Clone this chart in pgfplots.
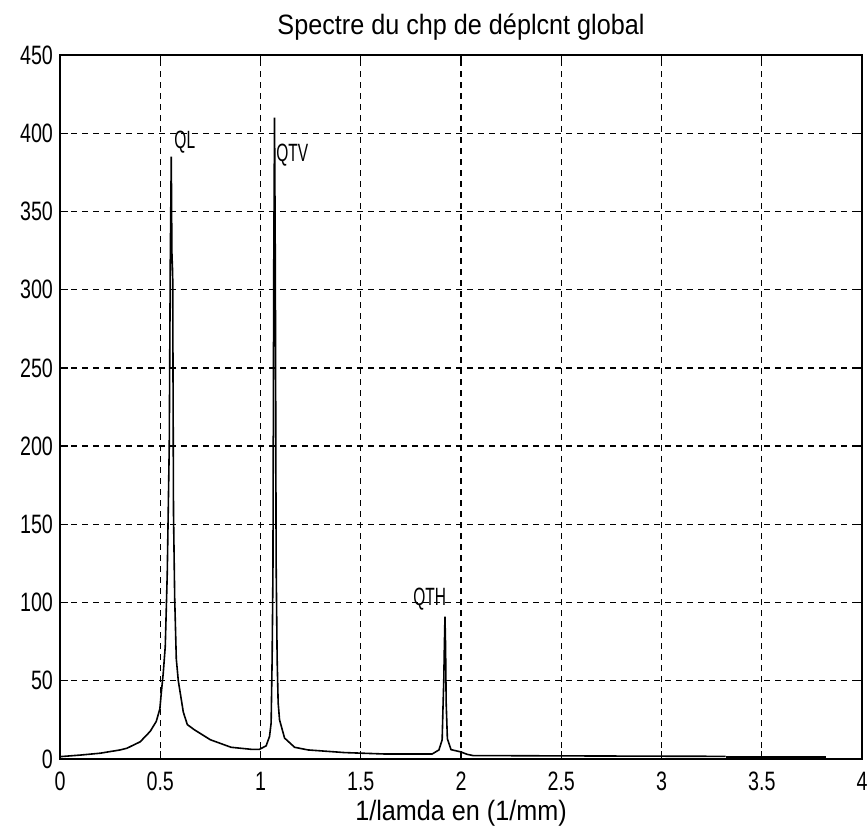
\documentclass[border=0pt]{standalone}
\usepackage{pgfplots}
\pgfplotsset{compat=1.18}
\usepackage{fontspec}
\setmainfont{Liberation Sans}[FakeStretch=0.9]
\newfontfamily\tickfont{Liberation Sans}[FakeStretch=0.74]
\newfontfamily\labfont{Liberation Sans}[FakeStretch=0.62]
\begin{document}
\begin{tikzpicture}
\begin{axis}[
  name=ax,
  scale only axis,
  width=401pt, height=352pt,
  xmin=0, xmax=4, ymin=0, ymax=450,
  xtick={0,0.5,1,1.5,2,2.5,3,3.5,4},
  ytick={0,50,100,150,200,250,300,350,400,450},
  xticklabels={0,0.5,1,1.5,2,2.5,3,3.5,4},
  grid=major,
  grid style={black, dash pattern=on 3pt off 2.5pt, line width=0.7pt},
  axis line style={black, line width=0.8pt},
  tick align=inside,
  major tick length=4pt,
  tick style={black, line width=0.7pt},
  /pgf/number format/assume math mode=true,
  ticklabel style={font=\tickfont\fontsize{13.3}{15}\selectfont},
  xticklabel style={yshift=-3pt},
  title={Spectre du chp de déplcnt global},
  title style={font=\fontsize{14}{16}\selectfont, at={(0.5,1)}, anchor=center, yshift=8pt},
  xlabel={1/lamda en (1/mm)},
  xlabel style={font=\fontsize{14}{16}\selectfont, at={(0.5,0)}, anchor=center, yshift=-27pt},
]
\addplot[black, line width=0.8pt] coordinates {
(0,1.5)(0.1,2.5)(0.2,3.7)(0.3,5.8)(0.334,6.9)(0.4,11)(0.45,17.7)(0.48,24)
(0.498,32)(0.505,42)(0.515,55)(0.525,72)(0.535,119)(0.545,201)(0.55,318)
(0.555,385)(0.558,324)(0.562,310)(0.566,158)(0.572,103)(0.58,64)(0.59,50)
(0.60,42)(0.615,30)(0.635,22)(0.67,18.7)(0.75,12.3)(0.853,7.5)(0.953,6.2)
(0.995,6.2)(1.028,8.4)(1.045,14.4)(1.053,23)(1.058,64)(1.062,119)(1.066,312)
(1.07,410)(1.074,312)(1.078,125)(1.083,64)(1.088,36)(1.095,25)(1.12,13.4)
(1.17,7.5)(1.237,5.8)(1.42,4.1)(1.62,3.2)(1.856,3.2)(1.89,5.8)(1.906,12.3)
(1.91,32)(1.914,50)(1.917,72)(1.92,91)(1.923,72)(1.926,36)(1.932,13)
(1.95,6)(2.0,4.5)(2.03,3)(2.06,2.2)(2.5,2)(3.0,1.8)(3.32,1.7)
};
\addplot[black, line width=1.6pt] coordinates {(3.32,0.9)(3.82,0.9)};
\node[anchor=west, inner sep=0pt, font=\labfont\fontsize{12.5}{14}\selectfont] at (axis cs:0.569,394) {QL};
\node[anchor=west, inner sep=0pt, font=\labfont\fontsize{12.5}{14}\selectfont] at (axis cs:1.077,386) {QTV};
\node[anchor=west, inner sep=0pt, font=\labfont\fontsize{12.5}{14}\selectfont] at (axis cs:1.76,102) {QTH};
\end{axis}
\pgfresetboundingbox
\path ([shift={(-30pt,-39.5pt)}]ax.south west) rectangle ([shift={(3pt,27.5pt)}]ax.north east);
\end{tikzpicture}
\end{document}
